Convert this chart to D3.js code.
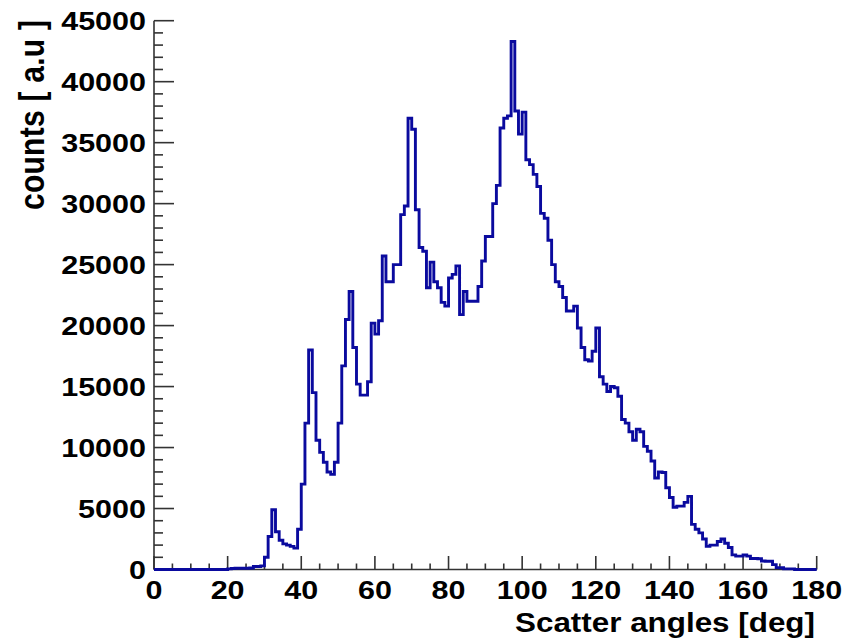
<!DOCTYPE html>
<html>
<head>
<meta charset="utf-8">
<script src="https://cdn.jsdelivr.net/npm/d3@7"></script>
<style>
  html, body { margin: 0; padding: 0; background: #fff; }
  svg { display: block; }
  text { font-family: "Liberation Sans", Arial, Helvetica, sans-serif; font-weight: bold; fill: #000; }
</style>
</head>
<body>
<svg id="chart" width="857" height="641"></svg>
<script>
// ---- data (1-degree bins, lower edges 0..179) ----
const binWidth = 1;
const counts = [
  0,0,0,0,0,0,0,0,0,0, 0,0,0,0,0,0,0,0,0,0,
  50,80,100,100,100,100,120,250,250,300,
  1000,2700,4900,3100,2400,2100,2000,1900,1750,3300,
  7000,12000,18000,14500,10600,9600,8800,8000,7800,8800,
  12000,16700,20500,22800,18200,15200,14300,14300,15400,20200,
  19300,20400,25700,23600,23600,25000,25000,29100,29800,37000,
  36100,29500,26400,26100,23100,25200,23600,23100,21900,21600,
  23900,24200,24900,20900,22800,22000,22000,22000,23200,25300,
  27300,27300,30000,31500,36200,37000,37200,43300,37600,35700,
  37500,33600,33200,32400,31400,29200,28800,27000,25000,23600,
  23200,22300,21200,21200,21600,19800,18200,17200,17100,17900,
  19800,15800,15200,14600,15000,14900,14200,12300,12000,11300,
  10600,11500,11300,10100,9700,8900,7500,8000,7950,6700,
  5900,5100,5200,5200,5500,6000,3700,3300,3000,2500,
  1900,2000,2000,2300,2500,2150,1800,1200,1100,1100,
  1200,1100,900,900,880,700,680,680,400,150,
  140,50,50,50,0,0,0,0,0,0
];
const xTicks = [0,20,40,60,80,100,120,140,160,180];
const yTicks = [0,5000,10000,15000,20000,25000,30000,35000,40000,45000];
const xTitle = "Scatter angles [deg]";
const yTitle = "counts [ a.u ]";

// ---- layout ----
const svg = d3.select("#chart");
const x = d3.scaleLinear().domain([0, 180]).range([154, 816.7]);
const y = d3.scaleLinear().domain([0, 45000]).range([569.5, 20.7]);
const axisColor = "#333";
const stretch = 1.22;

// y axis
const gy = svg.append("g");
gy.append("line").attr("x1", x(0)).attr("x2", x(0)).attr("y1", y(0)).attr("y2", y(45000))
  .attr("stroke", axisColor).attr("stroke-width", 1.6);
const yMinor = d3.range(0, 45001, 1000).filter(v => v % 5000 !== 0);
gy.selectAll("line.ymin").data(yMinor).join("line").attr("class", "ymin")
  .attr("x1", x(0)).attr("x2", x(0) + 9).attr("y1", d => y(d)).attr("y2", d => y(d))
  .attr("stroke", axisColor).attr("stroke-width", 1.6);
gy.selectAll("line.ymaj").data(yTicks).join("line").attr("class", "ymaj")
  .attr("x1", x(0)).attr("x2", x(0) + 20).attr("y1", d => y(d)).attr("y2", d => y(d))
  .attr("stroke", axisColor).attr("stroke-width", 1.6);
const yLab = gy.selectAll("text.ylab").data(yTicks).join("text").attr("class", "ylab")
  .attr("x", 146).attr("y", d => y(d) + 9.5)
  .attr("text-anchor", "end").attr("font-size", 25)
  .text(d => String(d));

// x axis
const gx = svg.append("g");
gx.append("line").attr("x1", x(0)).attr("x2", x(180)).attr("y1", y(0)).attr("y2", y(0))
  .attr("stroke", axisColor).attr("stroke-width", 1.6);
const xMinor = d3.range(0, 181, 5).filter(v => v % 20 !== 0);
gx.selectAll("line.xmin").data(xMinor).join("line").attr("class", "xmin")
  .attr("x1", d => x(d)).attr("x2", d => x(d)).attr("y1", y(0)).attr("y2", y(0) - 6)
  .attr("stroke", axisColor).attr("stroke-width", 1.6);
gx.selectAll("line.xmaj").data(xTicks).join("line").attr("class", "xmaj")
  .attr("x1", d => x(d)).attr("x2", d => x(d)).attr("y1", y(0)).attr("y2", y(0) - 13.5)
  .attr("stroke", axisColor).attr("stroke-width", 1.6);
const xLab = gx.selectAll("text.xlab").data(xTicks).join("text").attr("class", "xlab")
  .attr("x", d => x(d)).attr("y", 598.5)
  .attr("text-anchor", "middle").attr("font-size", 25)
  .text(d => String(d));

function widen(sel, k) {
  sel.each(function() {
    const w = this.getComputedTextLength();
    d3.select(this).attr("textLength", w * k).attr("lengthAdjust", "spacingAndGlyphs");
  });
}
widen(yLab, stretch);
widen(xLab, stretch);

// titles
svg.append("text").attr("x", 815).attr("y", 632).attr("text-anchor", "end")
  .attr("font-size", 27).attr("textLength", 300).attr("lengthAdjust", "spacingAndGlyphs")
  .text(xTitle);
svg.append("text")
  .attr("transform", "translate(44,210) scale(1.15,1) rotate(-90)")
  .attr("text-anchor", "start").attr("font-size", 30)
  .attr("textLength", 190).attr("lengthAdjust", "spacing")
  .text(yTitle);

// histogram outline
const pts = counts.map((c, i) => [i * binWidth, c]);
pts.push([counts.length * binWidth, counts[counts.length - 1]]);
const line = d3.line().x(d => x(d[0])).y(d => y(d[1])).curve(d3.curveStepAfter);
svg.append("path").attr("d", line(pts))
  .attr("fill", "none").attr("stroke", "#0a0a9e").attr("stroke-width", 2.9)
  .attr("stroke-linejoin", "miter");
</script>
</body>
</html>
